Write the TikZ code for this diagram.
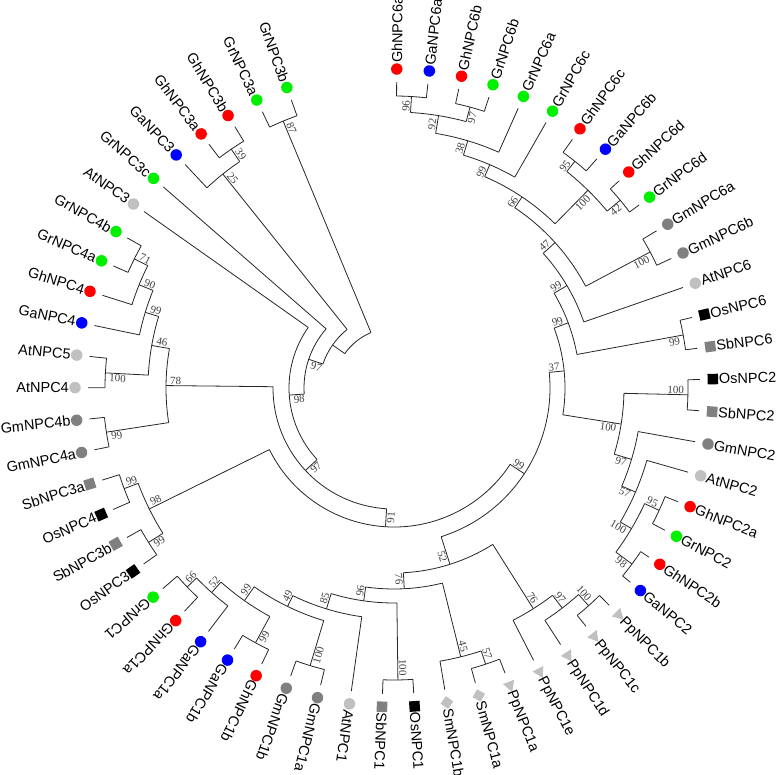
\documentclass[tikz,border=0pt]{standalone}
\usepackage{fontspec}
\setmainfont{Liberation Sans}
\newfontfamily\bsfont{Liberation Serif}
\usetikzlibrary{shapes.geometric}
\definecolor{cRed}{RGB}{255,0,0}
\definecolor{cBlue}{RGB}{0,0,255}
\definecolor{cGreen}{RGB}{0,240,0}
\definecolor{cDark}{RGB}{128,128,128}
\definecolor{cLight}{RGB}{192,192,192}
% tree node: angle, radius, parent radius, first child angle, last child angle
\newcommand\tn[5]{\draw[br] (#1:#3pt) -- (#1:#2pt); \draw[br] (#4:#2pt) arc[start angle=#4,end angle=#5,radius=#2pt];}
% leaves: id, angle, parent radius, marker style, text
\newcommand\lfR[5]{\draw[br] (#2:#3pt) -- (#2:306pt); \node[#4,rotate=#2] (m#1) at (#2:319pt) {}; \node[lbl,rotate=#2,anchor=west] (t#1) at (#2:325pt) {#5};}
\newcommand\lfL[5]{\draw[br] (#2:#3pt) -- (#2:306pt); \node[#4,rotate=#2] (m#1) at (#2:319pt) {}; \node[lbl,rotate=#2+180,anchor=east] (t#1) at (#2:325pt) {#5};}
% bootstrap labels: angle, node radius, text
\newcommand\bRa[3]{\node[bs,rotate=#1,anchor=south east] at (#1:{#2-3}) {#3};}
\newcommand\bRb[3]{\node[bs,rotate=#1,anchor=north east] at (#1:{#2-3}) {#3};}
\newcommand\bLa[3]{\node[bs,rotate=#1+180,anchor=south west] at (#1:{#2-3}) {#3};}
\newcommand\bLb[3]{\node[bs,rotate=#1+180,anchor=north west] at (#1:{#2-3}) {#3};}
\begin{document}
\begin{tikzpicture}[x=1pt,y=1pt,
  br/.style={line width=0.8pt,black!85},
  lbl/.style={font=\fontsize{14.5}{16}\selectfont,inner sep=0pt,text depth=0pt},
  bs/.style={font=\bsfont\fontsize{11}{12}\selectfont,inner sep=1pt,text=black!75},
  ci/.style={circle,fill=#1,minimum size=11.5pt,inner sep=0pt},
  sq/.style={rectangle,fill=#1,minimum size=10.5pt,inner sep=0pt},
  tri/.style={regular polygon,regular polygon sides=3,fill=cLight,minimum size=14pt,inner sep=0pt,shape border rotate=-90},
  dia/.style={diamond,fill=cLight,minimum size=13pt,inner sep=0pt}]
\useasboundingbox (0,0) rectangle (778,774);
\begin{scope}[shift={(394,386)}]
% root
\draw[br] (-247.45:60pt) arc[start angle=-247.45,end angle=-214.97,radius=60pt];
\tn{-247.45}{289}{60}{-244.52}{-250.38}
\tn{-214.97}{75}{60}{-231.34}{-198.61}
\tn{-231.34}{274}{75}{-226.94}{-235.73}
\tn{-235.73}{289}{274}{-232.8}{-238.66}
\tn{-198.61}{90}{75}{-221.08}{-176.14}
\tn{-176.14}{105}{90}{-215.22}{-137.06}
\tn{-137.06}{121}{105}{-180.61}{-93.51}
\tn{-180.61}{228}{121}{-171.27}{-189.96}
\tn{-171.27}{291}{228}{-168.34}{-174.2}
\tn{-189.96}{246}{228}{-183}{-196.91}
\tn{-183}{289}{246}{-180.06}{-185.92}
\tn{-196.91}{260}{246}{-191.78}{-202.04}
\tn{-202.04}{275}{260}{-197.64}{-206.43}
\tn{-206.43}{290}{275}{-203.5}{-209.36}
\tn{-93.51}{139}{121}{-153.69}{-33.33}
\tn{-153.69}{273}{139}{-147.83}{-159.55}
\tn{-147.83}{290}{273}{-144.9}{-150.76}
\tn{-159.55}{288}{273}{-156.62}{-162.48}
\tn{-33.33}{156}{139}{-72.4}{5.74}
\tn{5.74}{171}{156}{20.51}{-9.02}
\tn{20.51}{186}{171}{30.63}{10.39}
\tn{30.63}{201}{186}{42.07}{19.18}
\tn{42.07}{217}{201}{56.17}{27.97}
\tn{56.17}{230}{217}{66.79}{45.55}
\tn{66.79}{243}{230}{73.39}{60.2}
\tn{73.39}{258}{243}{80.71}{66.06}
\tn{80.71}{276}{258}{86.57}{74.85}
\tn{86.57}{292}{276}{89.5}{83.64}
\tn{74.85}{291}{276}{77.78}{71.92}
\tn{45.55}{277}{230}{51.41}{39.69}
\tn{51.41}{290}{277}{54.34}{48.48}
\tn{39.69}{294}{277}{42.62}{36.76}
\tn{27.97}{290}{217}{30.9}{25.04}
\tn{10.39}{294}{186}{13.32}{7.46}
\tn{-9.02}{230}{171}{-1.33}{-16.72}
\tn{-1.33}{294}{230}{1.6}{-4.26}
\tn{-16.72}{248}{230}{-10.12}{-23.31}
\tn{-23.31}{263}{248}{-15.98}{-30.63}
\tn{-30.63}{276}{263}{-24.77}{-36.49}
\tn{-24.77}{292}{276}{-21.84}{-27.7}
\tn{-36.49}{296}{276}{-33.56}{-39.42}
\tn{-72.4}{185}{156}{-57.73}{-87.08}
\tn{-57.73}{261}{185}{-52.6}{-62.86}
\tn{-52.6}{277}{261}{-48.21}{-57.0}
\tn{-48.21}{292}{277}{-45.28}{-51.14}
\tn{-87.08}{201}{185}{-76.05}{-98.1}
\tn{-76.05}{277}{201}{-71.65}{-80.44}
\tn{-71.65}{291}{277}{-68.72}{-74.58}
\tn{-98.1}{215}{201}{-89.23}{-107.0}
\tn{-89.23}{292}{215}{-86.3}{-92.16}
\tn{-107.0}{231}{215}{-98.02}{-115.97}
\tn{-115.97}{243}{231}{-106.81}{-125.12}
\tn{-106.81}{290}{243}{-103.88}{-109.74}
\tn{-125.12}{260}{243}{-118.53}{-131.72}
\tn{-118.53}{290}{260}{-115.6}{-121.46}
\tn{-131.72}{274}{260}{-127.32}{-136.11}
\tn{-136.11}{287}{274}{-133.18}{-139.04}
% leaves
\lfR{1}{89.5}{292}{ci=cRed}{GhNPC6a}
\lfR{2}{83.64}{292}{ci=cBlue}{GaNPC6a}
\lfR{3}{77.78}{291}{ci=cRed}{GhNPC6b}
\lfR{4}{71.92}{291}{ci=cGreen}{GrNPC6b}
\lfR{5}{66.06}{258}{ci=cGreen}{GrNPC6a}
\lfR{6}{60.2}{243}{ci=cGreen}{GrNPC6c}
\lfR{7}{54.34}{290}{ci=cRed}{GhNPC6c}
\lfR{8}{48.48}{290}{ci=cBlue}{GaNPC6b}
\lfR{9}{42.62}{294}{ci=cRed}{GhNPC6d}
\lfR{10}{36.76}{294}{ci=cGreen}{GrNPC6d}
\lfR{11}{30.9}{290}{ci=cDark}{GmNPC6a}
\lfR{12}{25.04}{290}{ci=cDark}{GmNPC6b}
\lfR{13}{19.18}{201}{ci=cLight}{AtNPC6}
\lfR{14}{13.32}{294}{sq=black}{OsNPC6}
\lfR{15}{7.46}{294}{sq=cDark}{SbNPC6}
\lfR{16}{1.6}{294}{sq=black}{OsNPC2}
\lfR{17}{-4.26}{294}{sq=cDark}{SbNPC2}
\lfR{18}{-10.12}{248}{ci=cDark}{GmNPC2}
\lfR{19}{-15.98}{263}{ci=cLight}{AtNPC2}
\lfR{20}{-21.84}{292}{ci=cRed}{GhNPC2a}
\lfR{21}{-27.7}{292}{ci=cGreen}{GrNPC2}
\lfR{22}{-33.56}{296}{ci=cRed}{GhNPC2b}
\lfR{23}{-39.42}{296}{ci=cBlue}{GaNPC2}
\lfR{24}{-45.28}{292}{tri}{PpNPC1b}
\lfR{25}{-51.14}{292}{tri}{PpNPC1c}
\lfR{26}{-57.0}{277}{tri}{PpNPC1d}
\lfR{27}{-62.86}{261}{tri}{PpNPC1e}
\lfR{28}{-68.72}{291}{tri}{PpNPC1a}
\lfR{29}{-74.58}{291}{dia}{SmNPC1a}
\lfR{30}{-80.44}{277}{dia}{SmNPC1b}
\lfR{31}{-86.3}{292}{sq=black}{OsNPC1}
\lfR{32}{-92.16}{292}{sq=cDark}{SbNPC1}
\lfR{33}{-98.02}{231}{ci=cLight}{AtNPC1}
\lfR{34}{-103.88}{290}{ci=cDark}{GmNPC1a}
\lfR{35}{-109.74}{290}{ci=cDark}{GmNPC1b}
\lfR{36}{-115.6}{290}{ci=cRed}{GhNPC1b}
\lfR{37}{-121.46}{290}{ci=cBlue}{GaNPC1b}
\lfR{38}{-127.32}{274}{ci=cBlue}{GaNPC1a}
\lfR{39}{-133.18}{287}{ci=cRed}{GhNPC1a}
\lfR{40}{-139.04}{287}{ci=cGreen}{GrNPC1}
\lfL{41}{-144.9}{290}{sq=black}{OsNPC3}
\lfL{42}{-150.76}{290}{sq=cDark}{SbNPC3b}
\lfL{43}{-156.62}{288}{sq=black}{OsNPC4}
\lfL{44}{-162.48}{288}{sq=cDark}{SbNPC3a}
\lfL{45}{-168.34}{291}{ci=cDark}{GmNPC4a}
\lfL{46}{-174.2}{291}{ci=cDark}{GmNPC4b}
\lfL{47}{-180.06}{289}{ci=cLight}{AtNPC4}
\lfL{48}{-185.92}{289}{ci=cLight}{AtNPC5}
\lfL{49}{-191.78}{260}{ci=cBlue}{GaNPC4}
\lfL{50}{-197.64}{275}{ci=cRed}{GhNPC4}
\lfL{51}{-203.5}{290}{ci=cGreen}{GrNPC4a}
\lfL{52}{-209.36}{290}{ci=cGreen}{GrNPC4b}
\lfL{53}{-215.22}{105}{ci=cLight}{AtNPC3}
\lfL{54}{-221.08}{90}{ci=cGreen}{GrNPC3c}
\lfL{55}{-226.94}{274}{ci=cBlue}{GaNPC3}
\lfL{56}{-232.8}{289}{ci=cRed}{GhNPC3a}
\lfL{57}{-238.66}{289}{ci=cRed}{GhNPC3b}
\lfL{58}{-244.52}{289}{ci=cGreen}{GrNPC3a}
\lfL{59}{-250.38}{289}{ci=cGreen}{GrNPC3b}
% bootstrap values
\bRa{86.57}{292}{96}
\bRb{74.85}{291}{97}
\bRa{80.71}{276}{92}
\bRa{73.39}{258}{38}
\bRa{66.79}{243}{99}
\bRa{56.17}{230}{66}
\bRa{42.07}{217}{47}
\bRa{30.63}{201}{99}
\bRa{20.51}{186}{99}
\bRa{5.74}{171}{37}
\bRb{45.55}{277}{100}
\bRa{51.41}{290}{95}
\bRb{39.69}{294}{42}
\bRb{27.97}{290}{100}
\bRb{10.39}{294}{99}
\bRb{-9.02}{230}{100}
\bRa{-1.33}{294}{100}
\bRb{-16.72}{248}{97}
\bRb{-23.31}{263}{57}
\bRb{-30.63}{276}{100}
\bRa{-24.77}{292}{95}
\bRb{-36.49}{296}{98}
\bRa{-48.21}{292}{100}
\bRa{-52.6}{277}{97}
\bRa{-57.73}{261}{76}
\bRb{-72.4}{185}{52}
\bRa{-76.05}{277}{45}
\bRa{-71.65}{291}{57}
\bRb{-87.08}{201}{76}
\bRa{-89.23}{292}{100}
\bRa{-33.33}{156}{99}
\bLa{-98.1}{215}{96}
\bLa{-107.0}{231}{85}
\bLa{-115.97}{243}{49}
\bLb{-106.81}{290}{100}
\bLa{-125.12}{260}{99}
\bLb{-118.53}{290}{99}
\bLa{-131.72}{274}{52}
\bLa{-136.11}{287}{66}
\bLb{-93.51}{139}{91}
\bLb{-137.06}{121}{97}
\bLa{-153.69}{273}{98}
\bLa{-159.55}{288}{99}
\bLb{-147.83}{290}{99}
\bLa{-180.61}{228}{78}
\bLb{-171.27}{291}{99}
\bLb{-183}{289}{100}
\bLa{-189.96}{246}{46}
\bLa{-196.91}{260}{99}
\bLa{-202.04}{275}{90}
\bLa{-206.43}{290}{71}
\bLa{-231.34}{274}{25}
\bLa{-235.73}{289}{39}
\bLa{-247.45}{289}{87}
\bLb{-198.61}{90}{97}
\bLb{-176.14}{105}{98}
\end{scope}
\end{tikzpicture}
\end{document}
